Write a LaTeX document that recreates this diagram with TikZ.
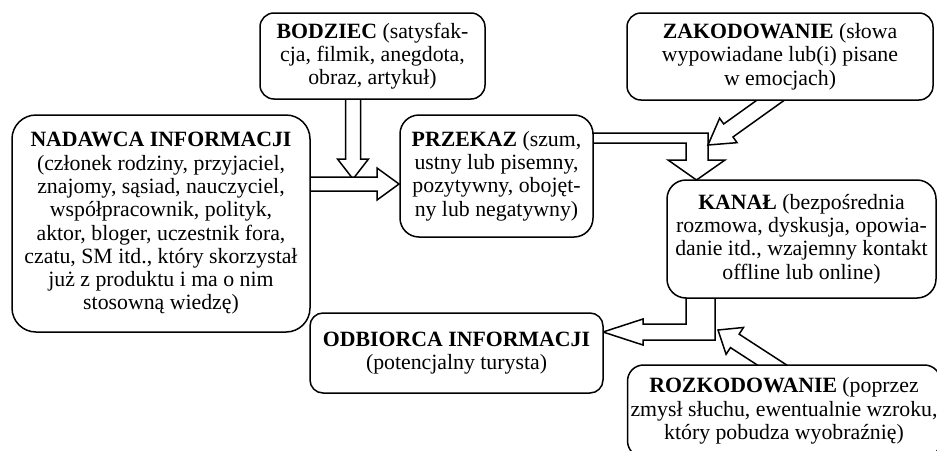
\documentclass[tikz,border=0pt]{standalone}
\usepackage{fontspec}
\setmainfont{Liberation Serif}
\usetikzlibrary{calc,backgrounds}

\tikzset{
  box/.style={draw, line width=1.5pt, fill=white, align=center, inner sep=3pt,
    font=\fontsize{21.8}{23.3}\selectfont},
  arr/.style={draw, line width=1.5pt, fill=white, line join=miter},
}
% block arrow: tail, tip, half shaft, half head, head length
\newcommand{\blockarrow}[5]{%
  \coordinate (ba) at ($(#2)!#5pt!(#1)$);
  \path[arr] ($(#1)!#3pt!90:(#2)$) -- ($(ba)!#3pt!90:(#2)$) -- ($(ba)!#4pt!90:(#2)$)
    -- (#2) -- ($(ba)!#4pt!-90:(#2)$) -- ($(ba)!#3pt!-90:(#2)$) -- ($(#1)!#3pt!-90:(#2)$) -- cycle;
}

\begin{document}
\begin{tikzpicture}[x=1pt,y=-1pt]
\useasboundingbox (0,0) rectangle (937,450);

\node[box, rounded corners=24pt, minimum width=298pt, minimum height=217pt] (nadawca) at (161,223.5)
  {\textbf{NADAWCA INFORMACJI}\\(członek rodziny, przyjaciel,\\znajomy, sąsiad, nauczyciel,\\współpracownik, polityk,\\aktor, bloger, uczestnik fora,\\czatu, SM itd., który skorzystał\\już z produktu i ma o nim\\stosowną wiedzę)};
\node[box, rounded corners=14pt, minimum width=225pt, minimum height=86pt] (bodziec) at (372.5,56)
  {\textbf{BODZIEC} (satysfak-\\cja, filmik, anegdota,\\obraz, artykuł)};
\node[box, rounded corners=19pt, minimum width=193pt, minimum height=122pt] (przekaz) at (496.5,176)
  {\textbf{PRZEKAZ} (szum,\\ustny lub pisemny,\\pozytywny, obojęt-\\ny lub negatywny)};
\node[box, rounded corners=14pt, minimum width=306pt, minimum height=87pt] (zakodowanie) at (780,56.5)
  {\textbf{ZAKODOWANIE} (słowa\\wypowiadane lub(i) pisane\\w emocjach)};
\node[box, rounded corners=19pt, minimum width=269pt, minimum height=118pt] (kanal) at (801.5,239)
  {\textbf{KANAŁ} (bezpośrednia\\rozmowa, dyskusja, opowia-\\danie itd., wzajemny kontakt\\offline lub online)};
\node[box, rounded corners=13pt, minimum width=293pt, minimum height=80pt] (odbiorca) at (456.5,353)
  {\textbf{ODBIORCA INFORMACJI}\\(potencjalny turysta)};
\node[box, rounded corners=16pt, minimum width=312pt, minimum height=92pt] (rozkodowanie) at (784,411)
  {\textbf{ROZKODOWANIE} (poprzez\\zmysł słuchu, ewentualnie wzroku,\\który pobudza wyobraźnię)};

% arrow ends
\coordinate (bodziec-out) at (353,92);
\coordinate (bodziec-in) at (353,179);
\coordinate (nadawca-out) at (300,184);
\coordinate (przekaz-in) at (399,184);
\coordinate (zakod-out) at (780,93.5);
\coordinate (zakod-in) at (708,145);
\coordinate (rozkod-out) at (782,371.5);
\coordinate (rozkod-in) at (718,330);

\begin{pgfonlayer}{background}
  \fill[white] (0,0) rectangle (937,450);
  \blockarrow{bodziec-out}{bodziec-in}{7.5}{15.5}{20}
  \blockarrow{nadawca-out}{przekaz-in}{7}{16}{22}
  % przekaz -> kanal
  \path[arr] (585,133) -- (708,133) -- (708,160) -- (725,160) -- (696.5,180)
    -- (668,160) -- (686,160) -- (686,143) -- (585,143) -- cycle;
  \blockarrow{zakod-out}{zakod-in}{8}{15}{25}
  % kanal -> odbiorca
  \path[arr] (686,290) -- (686,324) -- (643,324) -- (643,319) -- (603,332)
    -- (643,345) -- (643,340) -- (715,340) -- (715,290) -- cycle;
  \blockarrow{rozkod-out}{rozkod-in}{8}{16}{20}
\end{pgfonlayer}
\end{tikzpicture}
\end{document}
